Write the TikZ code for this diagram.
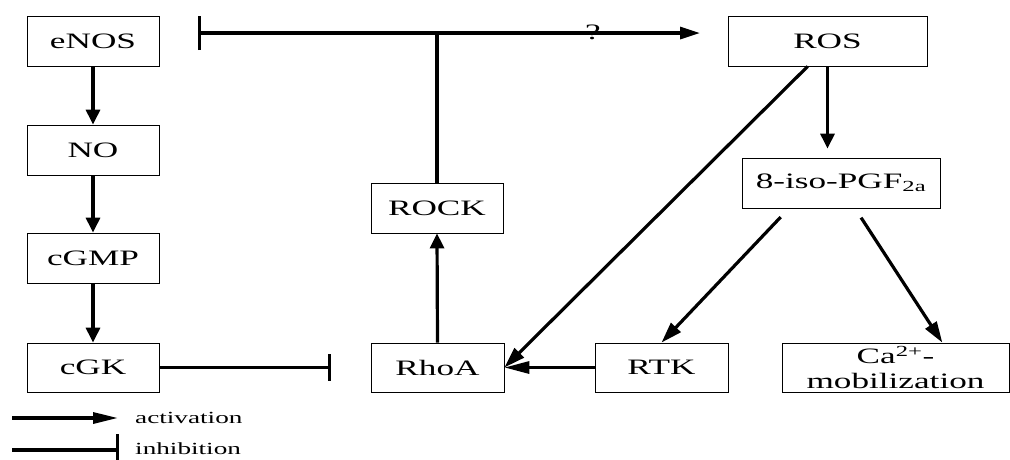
\documentclass[tikz,border=0pt]{standalone}
\usepackage{fontspec}
\setmainfont[FakeStretch=1.6]{Liberation Serif}
\usetikzlibrary{arrows.meta}

\tikzset{
    box/.style={draw, line width=0.8pt, minimum height=50pt, inner sep=0pt,
        font=\fontsize{22pt}{25pt}\selectfont, align=center},
    act/.style={line width=3.2pt, -{Triangle[length=15pt,width=14pt]}},
    actlong/.style={line width=3.2pt, -{Triangle[length=21pt,width=13pt]}},
    inh/.style={line width=3.2pt, -{Bar[width=27pt,line width=3.2pt]}},
}

\begin{document}
\begin{tikzpicture}[x=1pt, y=-1pt]
        \useasboundingbox (0,0) rectangle (1010,459);

        % levy sloupec
        \node[box, minimum width=132pt] (enos) at (93,41) {eNOS};
        \node[box, minimum width=132pt] (no) at (93,150) {NO};
        \node[box, minimum width=132pt] (cgmp) at (93,258) {cGMP};
        \node[box, minimum width=132pt, minimum height=49pt] (cgk) at (93,367.5) {cGK};

        % stred
        \node[box, minimum width=132pt] (rock) at (437,208) {ROCK};
        \node[box, minimum width=133pt, minimum height=49pt] (rhoa) at (437.5,367.5) {RhoA};

        % pravo
        \node[box, minimum width=199pt] (ros) at (827.5,41) {ROS};
        \node[box, minimum width=198pt] (iso) at (841,183) {8-iso-PGF\textsubscript{2a}};
        \node[box, minimum width=133pt, minimum height=49pt] (rtk) at (661.5,367.5) {RTK};
        \node[box, minimum width=227pt, minimum height=49pt] (ca) at (895.5,367.5)
            {Ca\textsuperscript{2+}-\\mobilization};

        \draw[act] (enos) -- (no);
        \draw[act] (no) -- (cgmp);
        \draw[act] (cgmp) -- (cgk);

        % cGK brzdi RhoA
        \coordinate (cgkbar) at (331,367.5);
        \draw[inh] (cgk) -- (cgkbar);

        % horni cara s otaznikem
        \coordinate (topbar) at (198,33);
        \coordinate (topend) at (700,33);
        \draw[line width=3.2pt, {Bar[width=34pt,line width=3.2pt]}-{Triangle[length=20pt,width=12pt]}]
            (topbar) -- (topend);
        \draw[line width=3.2pt] (rock.north) -- (rock.north |- topbar);
        \node[inner sep=0pt, font=\fontsize{22pt}{25pt}\selectfont] (otaznik) at (593,32) {?};

        \draw[act] (rhoa.north) -- (rock.south);
        \draw[actlong] (ros.232) -- (rhoa.east);
        \draw[act, shorten >=9pt] (ros.south) -- (ros.south |- iso.north);
        \draw[actlong, shorten <=12pt] (iso.206.4) -- (rtk.north);
        \draw[actlong, shorten <=11pt] (iso.299.8) -- (ca.28.8);
        \draw[line width=3.2pt, -{Triangle[length=25pt,width=12pt]}] (rtk) -- (rhoa);

        % legenda
        \coordinate (la1) at (12,418);
        \coordinate (la2) at (118,418);
        \coordinate (li1) at (12,450);
        \coordinate (li2) at (119,450);
        \draw[line width=3.2pt, -{Triangle[length=25pt,width=11pt]}] (la1) -- (la2);
        \draw[line width=3.2pt, -{Bar[width=32pt,line width=3.2pt]}] (li1) -- (li2);
        \node[anchor=west, inner sep=0pt, font=\fontsize{17pt}{20pt}\selectfont] (lact) at (135,418) {activation};
        \node[anchor=west, inner sep=0pt, font=\fontsize{17pt}{20pt}\selectfont] (linh) at (135,449) {inhibition};
    \end{tikzpicture}
\end{document}
